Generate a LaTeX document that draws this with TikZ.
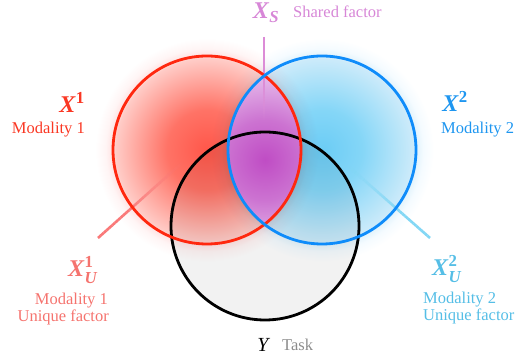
\documentclass[tikz,border=0pt]{standalone}
\usepackage{fontspec}
\usepackage{amsmath}
\setmainfont{Liberation Serif}
\usetikzlibrary{calc}
\definecolor{redc}{RGB}{255,40,15}
\definecolor{bluec}{RGB}{15,140,250}
\definecolor{labred}{RGB}{250,55,35}
\definecolor{labblue}{RGB}{30,150,240}
\definecolor{labpink}{RGB}{215,135,215}
\definecolor{labsalmon}{RGB}{245,115,110}
\definecolor{labcyan}{RGB}{85,190,230}
\definecolor{ptrred}{RGB}{250,120,120}
\definecolor{ptrblue}{RGB}{130,215,245}
\definecolor{ptrpink}{RGB}{220,140,215}
\definecolor{taskgray}{RGB}{140,140,140}
\definecolor{fillgray}{RGB}{242,242,242}
\pgfdeclareradialshading{redglow}{\pgfpoint{0bp}{0bp}}{rgb(0bp)=(1,.34,.29); rgb(7.7bp)=(1,.45,.4); rgb(17.6bp)=(1,.8,.78); rgb(18.4bp)=(1,.9,.9); rgb(19.5bp)=(1,.96,.96); rgb(21.5bp)=(1,1,1); rgb(50bp)=(1,1,1)}
\pgfdeclareradialshading{blueglow}{\pgfpoint{0bp}{0bp}}{rgb(0bp)=(.42,.8,.96); rgb(7.7bp)=(.52,.84,.97); rgb(17.6bp)=(.8,.92,.98); rgb(18.4bp)=(.9,.96,.99); rgb(19.5bp)=(.96,.985,1); rgb(21.5bp)=(1,1,1); rgb(50bp)=(1,1,1)}
\pgfdeclareradialshading{lensglow}{\pgfpoint{0bp}{0bp}}{rgb(0bp)=(.75,.3,.77); rgb(10bp)=(.8,.45,.82); rgb(20bp)=(.89,.7,.91); rgb(25bp)=(.93,.8,.95); rgb(50bp)=(.93,.8,.95)}
\newcommand\fadeline[4]{%
  \foreach \i in {0,...,29}{%
    \pgfmathsetmacro\ta{\i/30}%
    \pgfmathsetmacro\tb{(\i+1)/30}%
    \pgfmathsetmacro\op{min(1,max(0,(1-\ta)/(1-#4)))}%
    \draw[ptr, #1, draw opacity=\op] ($(#2)!\ta!(#3)$) -- ($(#2)!\tb!(#3)$);
  }}
\begin{document}
\begin{tikzpicture}[x=1pt,y=-1pt,
  ring/.style={circle, minimum size=188pt, inner sep=0pt, outer sep=0pt, line width=2.8pt},
  lab/.style={font=\fontsize{16.5}{18}\selectfont, inner sep=0pt},
  sym/.style={font=\fontsize{24}{26}\selectfont, inner sep=0pt, anchor=base},
  ptr/.style={line width=2.6pt}]
\useasboundingbox (0,0) rectangle (523,363);
% fills
\fill[fillgray] (265,226) circle (94pt);
\shade[shading=redglow, blend mode=multiply] (77,20) rectangle (337,280);
\shade[shading=blueglow, blend mode=multiply] (192,20) rectangle (452,280);
\begin{scope}
  \clip (207,150) circle (94pt);
  \clip (322,150) circle (94pt);
  \shade[shading=lensglow] (165,60) rectangle (365,260);
\end{scope}
% pointer lines
\coordinate (ps) at (264,37);
\coordinate (pe) at (264,120);
\coordinate (rs) at (98,238);
\coordinate (re) at (183,162);
\coordinate (bs) at (430,238);
\coordinate (be) at (347,165);
\fadeline{ptrpink}{ps}{pe}{0.55}
\fadeline{ptrred}{rs}{re}{0.35}
\fadeline{ptrblue}{bs}{be}{0.35}
% circles
\node[ring, draw=black] (Yc) at (265,226) {};
\node[ring, draw=redc] (X1c) at (207,150) {};
\node[ring, draw=bluec] (X2c) at (322,150) {};
% labels
\node[sym, text=labpink] (xs) at (266,19) {$\textbf{\textit{X}}_{\textbf{\textit{S}}}$};
\node[lab, text=labpink, anchor=base west] (xst) at (293,18) {Shared factor};
\node[sym, text=labred] (x1) at (72,113) {$\textbf{\textit{X}}^{\textbf{1}}$};
\node[lab, text=labred, anchor=base east] (x1t) at (85,134) {Modality 1};
\node[sym, text=labblue] (x2) at (455,112) {$\textbf{\textit{X}}^{\textbf{2}}$};
\node[lab, text=labblue, anchor=base west] (x2t) at (441,134) {Modality 2};
\node[sym, text=labsalmon] (xu1) at (83,277) {$\textbf{\textit{X}}^{\textbf{1}}_{\textbf{\textit{U}}}$};
\node[lab, text=labsalmon, anchor=base east] (xu1a) at (108,305) {Modality 1};
\node[lab, text=labsalmon, anchor=base east] (xu1b) at (109,322) {Unique factor};
\node[sym, text=labcyan] (xu2) at (447,276) {$\textbf{\textit{X}}^{\textbf{2}}_{\textbf{\textit{U}}}$};
\node[lab, text=labcyan, anchor=base west] (xu2a) at (423,304) {Modality 2};
\node[lab, text=labcyan, anchor=base west] (xu2b) at (423,321) {Unique factor};
\node[inner sep=0pt, anchor=base, font=\fontsize{20}{22}\selectfont\itshape] (y) at (263,352) {Y};
\node[lab, text=taskgray, anchor=base west] (yt) at (282,351) {Task};
\end{tikzpicture}
\end{document}
